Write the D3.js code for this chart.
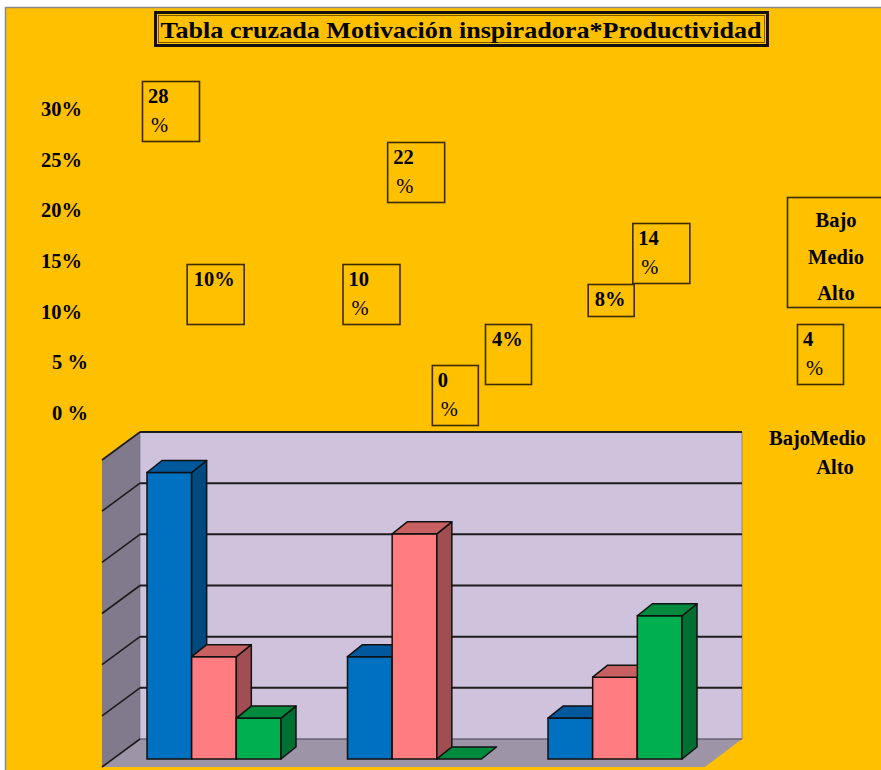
<!DOCTYPE html>
<html>
<head>
<meta charset="utf-8">
<script src="https://cdn.jsdelivr.net/npm/d3@7"></script>
<style>
  body { margin: 0; background: #fff; }
  svg text { font-family: "Liberation Serif", "Times New Roman", serif; font-weight: bold; fill: #000; }
</style>
</head>
<body>
<svg width="881" height="770"></svg>
<script>
// chart data
const categories = ["Bajo", "Medio", "Alto"];
const series = ["Bajo", "Medio", "Alto"];
const bajoVals = [28, 10, 4];
const medioVals = [10, 22, 8];
const altoVals = [4, 0, 14];
const bajoLabels = ["28 %", "10 %", "4 %"];
const medioLabels = ["10%", "22 %", "8%"];
const altoLabels = ["4%", "0 %", "14 %"];
const yTicks = [0, 5, 10, 15, 20, 25, 30];
const yTickLabels = ["0 %", "5 %", "10%", "15%", "20%", "25%", "30%"];
const title = "Tabla cruzada Motivación inspiradora*Productividad";

const svg = d3.select("svg"),
    width = +svg.attr("width"),
    height = +svg.attr("height");

const colors = {
  Bajo:  { front: "#0070C0", top: "#00599C", side: "#004A80" },
  Medio: { front: "#FF7C80", top: "#C86062", side: "#A04E52" },
  Alto:  { front: "#00B050", top: "#008A3E", side: "#006F32" }
};

// page background
svg.append("rect")
    .attr("x", 5.5).attr("y", 7.5)
    .attr("width", width).attr("height", height)
    .attr("fill", "#FFC000")
    .attr("stroke", "#8a8a8a").attr("stroke-width", 1.5);

// title
svg.append("rect")
    .attr("x", 155.5).attr("y", 12.5).attr("width", 612).attr("height", 33)
    .attr("fill", "none").attr("stroke", "#111").attr("stroke-width", 3);
svg.append("rect")
    .attr("x", 158.5).attr("y", 15.5).attr("width", 606).attr("height", 27)
    .attr("fill", "none").attr("stroke", "#5a4300").attr("stroke-width", 0.8);
svg.append("text")
    .attr("x", 461).attr("y", 38)
    .attr("text-anchor", "middle")
    .attr("textLength", 601).attr("lengthAdjust", "spacingAndGlyphs")
    .style("font-size", "23px")
    .text(title);

// scale for the floating percent labels (left side)
const yLab = d3.scaleLinear().domain([0, 30]).range([413, 109]);

svg.append("g").selectAll("text")
    .data(yTicks)
    .enter().append("text")
    .attr("x", (d, i) => yTickLabels[i].length === 3 && yTickLabels[i][1] !== " " ? 41 : 52)
    .attr("y", d => yLab(d) + 7)
    .style("font-size", "20.5px")
    .text((d, i) => yTickLabels[i]);

// 3d plot scales
const depthX = -38, depthY = 28;       // floor depth (back -> front)
const barDX = 15, barDY = 12;         // bar depth
const backBase = 739, frontBase = 759;
const backLeft = 140, backRight = 742, wallTop = 432;

const yBack = d3.scaleLinear().domain([0, 30]).range([backBase, wallTop]);
const yFront = d3.scaleLinear().domain([0, 30]).range([frontBase, frontBase - (backBase - wallTop)]);

const x0 = d3.scaleBand().domain(categories)
    .range([113.75, 715.25]).paddingInner(0.3317).paddingOuter(0.1658);
const x1 = d3.scaleBand().domain(series).range([0, x0.bandwidth()]);

const plot = svg.append("g");

// side wall
plot.append("path")
    .attr("d", `M${backLeft},${wallTop} L${backLeft + depthX},${wallTop + depthY} L${backLeft + depthX},${backBase + depthY} L${backLeft},${backBase} Z`)
    .attr("fill", "#817A8C");
// floor
plot.append("path")
    .attr("d", `M${backLeft},${backBase} L${backRight},${backBase} L${backRight + depthX + 1},${backBase + depthY} L${backLeft + depthX},${backBase + depthY} Z`)
    .attr("fill", "#9D94A8");
// back wall
plot.append("rect")
    .attr("x", backLeft).attr("y", wallTop)
    .attr("width", backRight - backLeft).attr("height", backBase - wallTop)
    .attr("fill", "#CEC2DC")
    .attr("stroke", "#6d6478").attr("stroke-width", 0.6);

// gridlines on back wall + side wall
const grid = plot.append("g");
grid.selectAll("line.back")
    .data(yTicks)
    .enter().append("line")
    .attr("class", "back")
    .attr("x1", backLeft).attr("x2", backRight)
    .attr("y1", d => yBack(d)).attr("y2", d => yBack(d))
    .attr("stroke", d => d === 0 ? "#5b5366" : "#1c1c1c")
    .attr("stroke-width", d => d === 0 ? 1 : 2);
grid.selectAll("line.side")
    .data(yTicks)
    .enter().append("line")
    .attr("class", "side")
    .attr("x1", backLeft).attr("x2", backLeft + depthX)
    .attr("y1", d => yBack(d)).attr("y2", d => yBack(d) + depthY)
    .attr("stroke", "#1c1c1c").attr("stroke-width", 1.6);

// bars
const allVals = { Bajo: bajoVals, Medio: medioVals, Alto: altoVals };
const barData = [];
categories.forEach((c, ci) => {
  series.forEach(s => barData.push({ cat: c, ci: ci, s: s, v: allVals[s][ci] }));
});

const bars = plot.append("g").selectAll("g")
    .data(barData)
    .enter().append("g");

bars.each(function(d) {
  const g = d3.select(this);
  const x = x0(d.cat) + x1(d.s), w = x1.bandwidth();
  const top = yFront(d.v), base = frontBase;
  const c = colors[d.s];
  if (d.v > 0) {
    g.append("rect")
        .attr("x", x).attr("y", top).attr("width", w).attr("height", base - top)
        .attr("fill", c.front).attr("stroke", "#111").attr("stroke-width", 1.5);
    g.append("path")
        .attr("d", `M${x + w},${top} L${x + w + barDX},${top - barDY} L${x + w + barDX},${base - barDY} L${x + w},${base} Z`)
        .attr("fill", c.side).attr("stroke", "#111").attr("stroke-width", 1.5)
        .attr("stroke-linejoin", "round");
  }
  g.append("path")
      .attr("d", `M${x},${top} L${x + barDX},${top - barDY} L${x + w + barDX},${top - barDY} L${x + w},${top} Z`)
      .attr("fill", c.top).attr("stroke", "#111").attr("stroke-width", 1.5)
      .attr("stroke-linejoin", "round");
});

// floating value labels (boxes)
const allLabels = { Bajo: bajoLabels, Medio: medioLabels, Alto: altoLabels };
const strayX = { "Alto-0": 485, "Bajo-2": 797 };
const labelData = barData.map(d => ({ ...d, text: allLabels[d.s][d.ci] }));

const boxes = svg.append("g").selectAll("g")
    .data(labelData)
    .enter().append("g")
    .attr("transform", d => {
      const key = d.s + "-" + d.ci;
      const bx = strayX[key] !== undefined ? strayX[key] : x0(d.cat) + x1(d.s) - 5;
      return "translate(" + bx + "," + Math.round(yLab(d.v) - 48) + ")";
    });

boxes.append("rect")
    .attr("x", 0.5).attr("y", 0.5)
    .attr("width", d => String(d.v).length > 1 ? 57 : 46)
    .attr("height", d => d.text === "8%" ? 32 : 60)
    .attr("fill", "none")
    .attr("stroke", "#3b2c00").attr("stroke-width", 1.6);

boxes.each(function(d) {
  const g = d3.select(this);
  const parts = d.text.split(" ");
  if (parts.length > 1) {
    g.append("text").attr("x", 6).attr("y", 22).style("font-size", "20.5px").text(parts[0]);
    g.append("text").attr("x", 9).attr("y", 51).style("font-size", "20.5px")
        .style("font-weight", "normal").text(parts[1]);
  } else {
    g.append("text").attr("x", 7).attr("y", 22).style("font-size", "20.5px").text(d.text);
  }
});

// legend (broken layout as in the source)
svg.append("rect")
    .attr("x", 787.5).attr("y", 197.5).attr("width", 100).attr("height", 110)
    .attr("fill", "none").attr("stroke", "#3b2c00").attr("stroke-width", 1.6);
svg.append("g").selectAll("text")
    .data(series)
    .enter().append("text")
    .attr("x", 836).attr("y", (d, i) => 227 + i * 36.5)
    .attr("text-anchor", "middle")
    .style("font-size", "20.5px")
    .text(d => d);

// category axis labels, squeezed to the right
svg.append("text")
    .attr("x", 769).attr("y", 445)
    .style("font-size", "20.5px")
    .text(categories[0] + categories[1]);
svg.append("text")
    .attr("x", 835).attr("y", 474)
    .attr("text-anchor", "middle")
    .style("font-size", "20.5px")
    .text(categories[2]);
</script>
</body>
</html>
